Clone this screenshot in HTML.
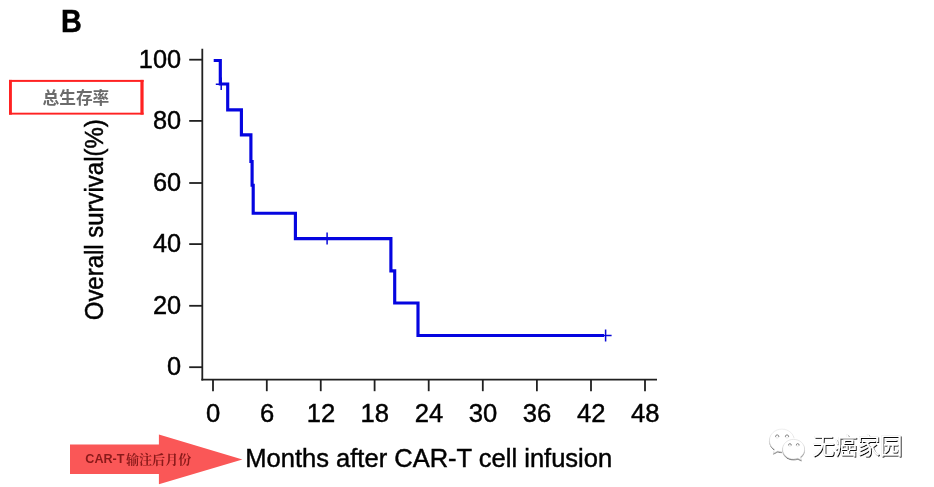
<!DOCTYPE html>
<html><head><meta charset="utf-8"><title>B</title>
<style>
html,body{margin:0;padding:0;background:#fff;}
body{width:934px;height:487px;overflow:hidden;position:relative;font-family:"Liberation Sans",sans-serif;}
svg{position:absolute;left:0;top:0;display:block;}
text{font-family:"Liberation Sans",sans-serif;fill:#000;stroke:#000;stroke-width:0.45px;}
</style></head><body>
<svg width="934" height="487" viewBox="0 0 934 487">
<defs>
<filter id="sh" x="-10%" y="-15%" width="125%" height="135%"><feGaussianBlur in="SourceAlpha" stdDeviation="0.55" result="b"/><feOffset in="b" dx="0.6" dy="0.6" result="o"/><feComponentTransfer in="o" result="o2"><feFuncA type="linear" slope="0.95"/></feComponentTransfer><feGaussianBlur in="SourceAlpha" stdDeviation="0.45" result="h0"/><feComponentTransfer in="h0" result="h"><feFuncA type="linear" slope="0.4"/></feComponentTransfer><feMerge><feMergeNode in="h"/><feMergeNode in="o2"/><feMergeNode in="SourceGraphic"/></feMerge></filter>
<filter id="sh2" x="-10%" y="-15%" width="125%" height="135%"><feGaussianBlur in="SourceAlpha" stdDeviation="0.5" result="b"/><feOffset in="b" dx="0.5" dy="0.6" result="o"/><feComponentTransfer in="o" result="o2"><feFuncA type="linear" slope="0.7"/></feComponentTransfer><feMerge><feMergeNode in="o2"/><feMergeNode in="SourceGraphic"/></feMerge></filter>
</defs>
<rect width="934" height="487" fill="#fff"/>
<g opacity="0.999">
<!-- panel letter -->
<text x="0" y="0" font-size="30.6" font-weight="700" style="fill:#000;stroke:#000;stroke-width:0.5" transform="translate(61.05 31.75) scale(0.94 1)">B</text>
<!-- red label box -->
<g fill="#ff2222"><rect x="9" y="79.9" width="134.6" height="2"/><rect x="9" y="112.7" width="134.6" height="1.9"/><rect x="9" y="79.9" width="2.9" height="34.7"/><rect x="140.4" y="79.9" width="3.2" height="34.7"/></g>
<text x="75.9" y="104.2" font-size="16.7" font-weight="700" text-anchor="middle" style="font-family:'Liberation Sans','Noto Sans CJK SC',sans-serif;fill:#6b6b6b;stroke:none">总生存率</text>
<!-- axes -->
<g stroke="#202020" stroke-width="1.8" fill="none" stroke-linecap="butt">
<line x1="202.3" y1="48.8" x2="202.3" y2="380.4"/>
<line x1="201.4" y1="379.6" x2="657" y2="379.6"/>
<line x1="213.0" y1="379" x2="213.0" y2="391.2"/><line x1="266.8" y1="379" x2="266.8" y2="391.2"/><line x1="320.75" y1="379" x2="320.75" y2="391.2"/><line x1="374.6" y1="379" x2="374.6" y2="391.2"/><line x1="428.7" y1="379" x2="428.7" y2="391.2"/><line x1="482.8" y1="379" x2="482.8" y2="391.2"/><line x1="536.9" y1="379" x2="536.9" y2="391.2"/><line x1="591.0" y1="379" x2="591.0" y2="391.2"/><line x1="645.0" y1="379" x2="645.0" y2="391.2"/>
<line x1="189.2" y1="59.7" x2="202" y2="59.7"/><line x1="189.2" y1="120.9" x2="202" y2="120.9"/><line x1="189.2" y1="183.0" x2="202" y2="183.0"/><line x1="189.2" y1="244.1" x2="202" y2="244.1"/><line x1="189.2" y1="305.8" x2="202" y2="305.8"/><line x1="189.2" y1="367.2" x2="202" y2="367.2"/>
</g>
<g font-size="25.6"><text x="206.08" y="422.00" transform="translate(206.08 0) scale(1.0 1) translate(-206.08 0)">0</text><text x="259.88" y="422.00" transform="translate(259.88 0) scale(1.0 1) translate(-259.88 0)">6</text><text x="306.71" y="422.00" transform="translate(306.71 0) scale(1.0 1) translate(-306.71 0)">12</text><text x="360.56" y="422.00" transform="translate(360.56 0) scale(1.0 1) translate(-360.56 0)">18</text><text x="414.66" y="422.00" transform="translate(414.66 0) scale(1.0 1) translate(-414.66 0)">24</text><text x="468.76" y="422.00" transform="translate(468.76 0) scale(1.0 1) translate(-468.76 0)">30</text><text x="522.86" y="422.00" transform="translate(522.86 0) scale(1.0 1) translate(-522.86 0)">36</text><text x="576.96" y="422.00" transform="translate(576.96 0) scale(1.0 1) translate(-576.96 0)">42</text><text x="630.96" y="422.00" transform="translate(630.96 0) scale(1.0 1) translate(-630.96 0)">48</text><text x="138.81" y="67.60" transform="translate(138.81 0) scale(0.99 1) translate(-138.81 0)">100</text><text x="152.91" y="128.80" transform="translate(152.91 0) scale(0.99 1) translate(-152.91 0)">80</text><text x="152.91" y="190.90" transform="translate(152.91 0) scale(0.99 1) translate(-152.91 0)">60</text><text x="152.91" y="252.00" transform="translate(152.91 0) scale(0.99 1) translate(-152.91 0)">40</text><text x="152.91" y="313.70" transform="translate(152.91 0) scale(0.99 1) translate(-152.91 0)">20</text><text x="167.00" y="375.10" transform="translate(167.00 0) scale(0.99 1) translate(-167.00 0)">0</text></g>
<!-- y axis title -->
<text font-size="24" transform="translate(102.7 320.25) rotate(-90) scale(0.9986 1.06)" x="0" y="0">Overall survival(%)</text>
<!-- x axis title -->
<text font-size="25.3" transform="translate(245.3 467) scale(1.009 1)" x="0" y="0">Months after CAR-T cell infusion</text>
<!-- KM curve -->
<path d="M213.7 60.5 H220.3 V84 H227.7 V109.9 H241.4 V134.9 H250.9 V161.5 H252.1 V185.2 H253.2 V213.2 H295.4 V238.6 H390.9 V270.8 H394.7 V303 H418 V335.5 H604" fill="none" stroke="#0505e0" stroke-width="3.15" stroke-linejoin="miter" stroke-linecap="butt"/>
<g stroke="#0808d8" stroke-width="1.5" fill="none">
<path d="M221.2 77.5V90M215.8 84.3H224"/>
<path d="M327.1 232.6V244.6"/>
<path d="M605.6 329.6V341.6M603 335.5H611.6"/>
</g>
<!-- red arrow -->
<path d="M70 444.500H158.900V434.600L242.400 459.400L158.900 484.300V474H70Z" fill="#fa5757"/>
<text x="85.3" y="462.900" font-size="12.600" font-weight="700" style="fill:#8a1a1a;stroke:none">CAR-T</text>
<text x="126" y="463.500" font-size="13.050" font-weight="700" style="font-family:'Liberation Serif','Noto Serif CJK SC',serif;fill:#8a1a1a;stroke:none">输注后月份</text>
</g>
<!-- watermark -->
<g filter="url(#sh2)" fill="#fff" stroke="#dcdcdc" stroke-width="0.5" transform="translate(781.9 440.4) scale(0.965) translate(-781.9 -440.4)">
<path d="M781.9 428.7c7.100 0 12.900 5.200 12.900 11.700 0 6.500-5.800 11.700-12.900 11.700-1.500 0-3-.2-4.300-.7l-4.500 2.300 1.200-4.100c-3.200-2.100-5.300-5.500-5.300-9.200 0-6.500 5.800-11.700 12.900-11.700z"/>
</g>
<path d="M793.6 438.9c6.400 0 11.500 4.600 11.500 10.300 0 3.300-1.700 6.200-4.400 8.100l1.100 3.300-3.800-1.900c-1.400.5-2.900.8-4.400.8-6.400 0-11.500-4.600-11.500-10.300s5.100-10.300 11.500-10.300z" fill="#fff" stroke="#fff" stroke-width="1.6"/>
<g filter="url(#sh2)" fill="#fff" stroke="#cfcfcf" stroke-width="0.5" transform="translate(793.6 449.2) scale(0.955) translate(-793.6 -449.2)">
<path d="M793.6 438.9c6.400 0 11.500 4.600 11.500 10.300 0 3.300-1.700 6.200-4.400 8.100l1.100 3.300-3.800-1.900c-1.400.5-2.900.8-4.400.8-6.400 0-11.500-4.600-11.500-10.300s5.100-10.300 11.500-10.300z"/>
</g>
<g fill="none" stroke-linecap="round">
<g stroke="#d8d8d8" stroke-width="0.6"><circle cx="777.2" cy="436.4" r="1.7"/><circle cx="787" cy="436.4" r="1.7"/><circle cx="789.9" cy="444.9" r="1.4"/><circle cx="797.7" cy="444.9" r="1.4"/></g>
<g stroke="#7a7a7a" stroke-width="0.8"><path d="M775.5 436.6a1.700 1.700 0 0 1 3.400 0"/><path d="M785.3 436.600a1.700 1.700 0 0 1 3.400 0"/><path d="M788.5 445a1.400 1.400 0 0 1 2.800 0"/><path d="M796.3 445a1.400 1.400 0 0 1 2.800 0"/></g>
</g>
<text x="812" y="454.400" font-size="22.600" filter="url(#sh)" style="font-family:'Liberation Sans','Noto Sans CJK SC',sans-serif;fill:#fff;stroke:none">无癌家园</text>
</svg>
</body></html>
